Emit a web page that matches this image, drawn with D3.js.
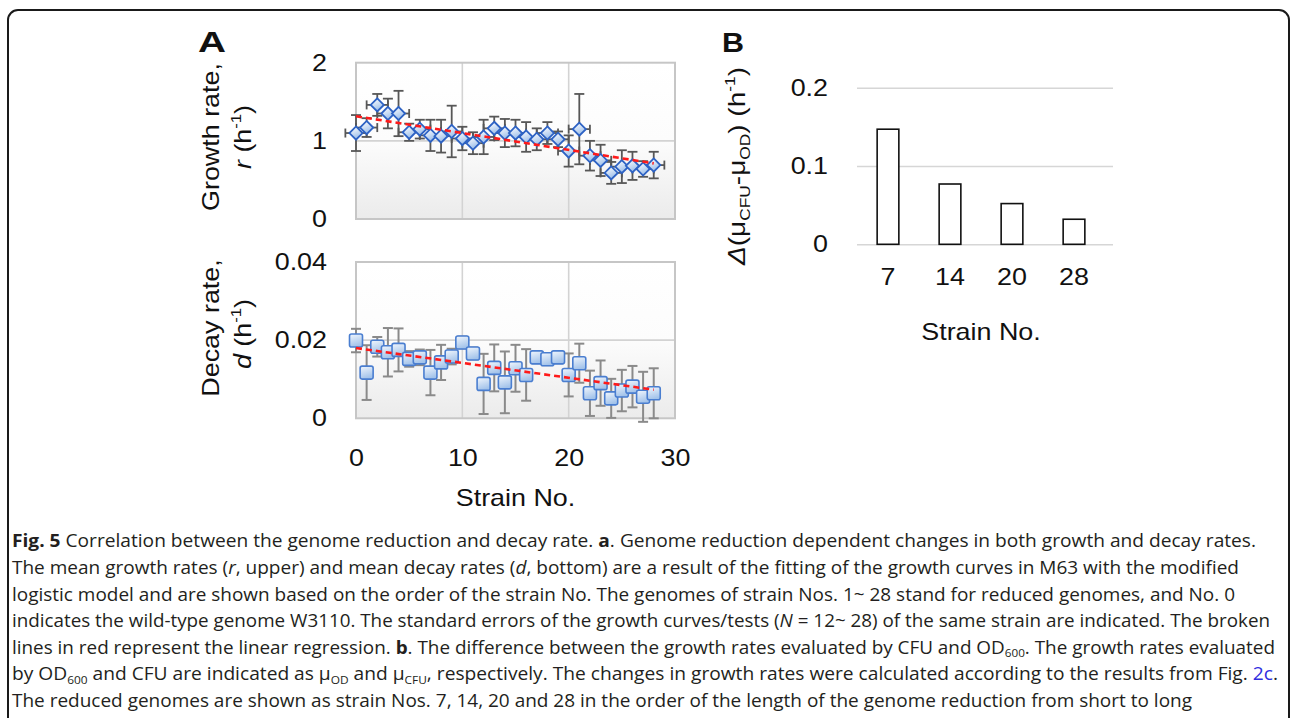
<!DOCTYPE html>
<html><head><meta charset="utf-8">
<script src="https://cdn.jsdelivr.net/npm/d3@7"></script>
<style>body{margin:0;background:#fff;overflow:hidden} svg{display:block}</style>
</head><body>
<svg id="c" width="1290" height="718"></svg>
<script>
// ---------------- DATA ----------------
const strainNo   = [0,1,2,3,4,5,6,7,8,9,10,11,12,13,14,15,16,17,18,19,20,21,22,23,24,25,26,27,28];
const growthRate = [1.10,1.17,1.46,1.35,1.35,1.11,1.15,1.07,1.06,1.12,1.03,0.97,1.05,1.16,1.10,1.10,1.05,1.02,1.10,1.02,0.87,1.15,0.81,0.75,0.59,0.67,0.68,0.64,0.69];
const growthErr  = [0.23,0.12,0.14,0.19,0.29,0.11,0.12,0.20,0.21,0.33,0.15,0.14,0.22,0.15,0.18,0.17,0.19,0.14,0.14,0.10,0.20,0.45,0.19,0.20,0.14,0.21,0.18,0.10,0.17];
const growthXErr = 1.0;
const decayRate  = [0.0199,0.0117,0.0183,0.0169,0.0175,0.0152,0.0156,0.0117,0.0143,0.0158,0.0194,0.0166,0.0088,0.0129,0.0092,0.0128,0.0111,0.0156,0.0151,0.0156,0.0111,0.0141,0.0064,0.0090,0.0051,0.0071,0.0081,0.0055,0.0064];
const decayErr   = [0.0030,0.0070,0.0025,0.0062,0.0055,0.0020,0.0020,0.0058,0.0045,0.0020,0.0015,0.0015,0.0077,0.0060,0.0079,0.0060,0.0066,0.0015,0.0015,0.0015,0.0055,0.0050,0.0058,0.0058,0.0050,0.0053,0.0053,0.0064,0.0064];
const barStrains = ["7","14","20","28"];
const deltaMu    = [0.147,0.077,0.052,0.032];
const growthTicks = [0,1,2];
const decayTicks  = [0,0.02,0.04];
const strainTicks = [0,10,20,30];
const deltaTicks  = [0,0.1,0.2];

// ---------------- SETUP ----------------
const svg = d3.select("#c");
const FONT = "'Liberation Sans', Arial, sans-serif";
const CAPFONT = "'Open Sans', 'Noto Sans', sans-serif";
const WID = 1.12;

function widen(sel, f){
  sel.each(function(){
    const l = this.getComputedTextLength();
    d3.select(this).attr("textLength", l*f).attr("lengthAdjust","spacingAndGlyphs");
  });
}
function rich(t, segs, size){
  let shift = 0;
  segs.forEach(s=>{
    const ts = t.append("tspan").text(s.t);
    const target = s.sup ? -0.42*size : (s.sub ? 0.22*size : 0);
    if (target - shift !== 0) ts.attr("dy", target - shift);
    shift = target;
    if (s.sup || s.sub) ts.attr("font-size", size*0.62);
    if (s.i) ts.attr("font-style","italic");
    if (s.b) ts.attr("font-weight","bold");
    if (s.fill) ts.attr("fill", s.fill);
  });
  return t;
}
function linreg(xs, ys){
  const mx = d3.mean(xs), my = d3.mean(ys);
  let sxy=0, sxx=0;
  xs.forEach((x,i)=>{ sxy += (x-mx)*(ys[i]-my); sxx += (x-mx)*(x-mx); });
  const b = sxy/sxx; return [my - b*mx, b];
}

const defs = svg.append("defs");
const bg = defs.append("linearGradient").attr("id","plotBg").attr("x1",0).attr("y1",0).attr("x2",0).attr("y2",1);
bg.append("stop").attr("offset","0%").attr("stop-color","#ffffff");
bg.append("stop").attr("offset","50%").attr("stop-color","#fcfcfc");
bg.append("stop").attr("offset","100%").attr("stop-color","#ebebeb");
const dg = defs.append("linearGradient").attr("id","diaFill").attr("x1",0.2).attr("y1",0).attr("x2",0.6).attr("y2",1);
dg.append("stop").attr("offset","0%").attr("stop-color","#ffffff");
dg.append("stop").attr("offset","100%").attr("stop-color","#94b9e8");
const sg = defs.append("linearGradient").attr("id","sqFill").attr("x1",0).attr("y1",0).attr("x2",0.3).attr("y2",1);
sg.append("stop").attr("offset","0%").attr("stop-color","#f2f7fd");
sg.append("stop").attr("offset","100%").attr("stop-color","#a3c3ea");

// frame
svg.append("rect").attr("x",8).attr("y",10).attr("width",1281).attr("height",780)
  .attr("rx",10).attr("fill","none").attr("stroke","#1a1a1a").attr("stroke-width",2);

// ---------------- PANEL A ----------------
const x = d3.scaleLinear().domain([0,30]).range([356,675]);
const yG = d3.scaleLinear().domain([0,2]).range([219,62.7]);
const yD = d3.scaleLinear().domain([0,0.04]).range([418.3,262]);

function plotFrame(y){
  const g = svg.append("g");
  const [y0,y1] = y.range();
  g.append("rect").attr("x",x(0)).attr("y",y1).attr("width",x(30)-x(0)).attr("height",y0-y1)
    .attr("fill","url(#plotBg)");
  const mid = y.domain()[1]/2;
  g.append("line").attr("x1",x(0)).attr("x2",x(30)).attr("y1",y(mid)).attr("y2",y(mid))
    .attr("stroke","#d3d3d3").attr("stroke-width",1.6);
  [10,20].forEach(v=> g.append("line").attr("x1",x(v)).attr("x2",x(v)).attr("y1",y1).attr("y2",y0)
    .attr("stroke","#d3d3d3").attr("stroke-width",1.6));
  g.append("rect").attr("x",x(0)).attr("y",y1).attr("width",x(30)-x(0)).attr("height",y0-y1)
    .attr("fill","none").attr("stroke","#c6c6c6").attr("stroke-width",2);
}
plotFrame(yG);
plotFrame(yD);

// y axes
function yAxis(y, ticks, fmt){
  const g = svg.append("g").attr("transform",`translate(${x(0)},0)`)
    .call(d3.axisLeft(y).tickValues(ticks).tickSize(0).tickPadding(29).tickFormat(fmt));
  g.select(".domain").remove();
  g.selectAll("text").attr("font-family",FONT).attr("font-size",24).attr("fill","#111");
  widen(g.selectAll("text"), WID);
}
yAxis(yG, growthTicks, d=>d3.format("d")(d));
yAxis(yD, decayTicks, d=> d===0 ? "0" : d3.format(".2f")(d));

const gx = svg.append("g").attr("transform",`translate(0,${yD.range()[0]})`)
  .call(d3.axisBottom(x).tickValues(strainTicks).tickSize(0).tickPadding(31));
gx.select(".domain").remove();
gx.selectAll("text").attr("font-family",FONT).attr("font-size",24).attr("fill","#111");
widen(gx.selectAll("text"), WID);

const xt = svg.append("text").attr("x",(x(0)+x(30))/2).attr("y",506).attr("text-anchor","middle")
  .attr("font-family",FONT).attr("font-size",24).attr("fill","#111").text("Strain No.");
widen(xt, WID);

function yTitle(cx, cy, segs){
  const t = svg.append("text").attr("transform",`translate(${cx},${cy}) rotate(-90)`)
    .attr("text-anchor","middle").attr("font-family",FONT).attr("font-size",24).attr("fill","#111");
  rich(t, segs, 24);
  widen(t, WID);
}
yTitle(219, 137, [{t:"Growth rate,"}]);
yTitle(251, 137, [{t:"r",i:1},{t:" (h"},{t:"-1",sup:1},{t:")"}]);
yTitle(219, 328, [{t:"Decay rate,"}]);
yTitle(251, 334, [{t:"d",i:1},{t:" (h"},{t:"-1",sup:1},{t:")"}]);

// growth error bars
const eg = svg.append("g").attr("stroke","#575757").attr("stroke-width",1.8).attr("fill","none");
strainNo.forEach((n,i)=>{
  const cx = x(n), lo = yG(growthRate[i]-growthErr[i]), hi = yG(growthRate[i]+growthErr[i]), cy = yG(growthRate[i]);
  eg.append("line").attr("x1",cx).attr("x2",cx).attr("y1",lo).attr("y2",hi);
  eg.append("line").attr("x1",cx-5).attr("x2",cx+5).attr("y1",lo).attr("y2",lo);
  eg.append("line").attr("x1",cx-5).attr("x2",cx+5).attr("y1",hi).attr("y2",hi);
  const xl = x(n-growthXErr), xr = x(n+growthXErr);
  eg.append("line").attr("x1",xl).attr("x2",xr).attr("y1",cy).attr("y2",cy);
  eg.append("line").attr("x1",xl).attr("x2",xl).attr("y1",cy-4.5).attr("y2",cy+4.5);
  eg.append("line").attr("x1",xr).attr("x2",xr).attr("y1",cy-4.5).attr("y2",cy+4.5);
});
// diamonds
const r = 6.6;
svg.append("g").selectAll("path").data(strainNo).join("path")
  .attr("transform",(n,i)=>`translate(${x(n)},${yG(growthRate[i])})`)
  .attr("d",`M0,${-r}L${r},0L0,${r}L${-r},0Z`)
  .attr("fill","url(#diaFill)").attr("stroke","#2d62c4").attr("stroke-width",1.8);

// decay error bars
const ed = svg.append("g").attr("stroke","#8a8a8a").attr("stroke-width",2).attr("fill","none");
strainNo.forEach((n,i)=>{
  const cx = x(n), lo = yD(decayRate[i]-decayErr[i]), hi = yD(decayRate[i]+decayErr[i]);
  ed.append("line").attr("x1",cx).attr("x2",cx).attr("y1",lo).attr("y2",hi);
  ed.append("line").attr("x1",cx-5).attr("x2",cx+5).attr("y1",lo).attr("y2",lo);
  ed.append("line").attr("x1",cx-5).attr("x2",cx+5).attr("y1",hi).attr("y2",hi);
});
const s = 13;
svg.append("g").selectAll("rect").data(strainNo).join("rect")
  .attr("x",n=>x(n)-s/2).attr("y",(n,i)=>yD(decayRate[i])-s/2)
  .attr("width",s).attr("height",s).attr("rx",2)
  .attr("fill","url(#sqFill)").attr("stroke","#4a7ed0").attr("stroke-width",1.6);

// regression lines
function regLine(ys, y){
  const [a,b] = linreg(strainNo, ys);
  const x0 = d3.min(strainNo), x1 = d3.max(strainNo);
  svg.append("line").attr("x1",x(x0)).attr("x2",x(x1)).attr("y1",y(a+b*x0)).attr("y2",y(a+b*x1))
    .attr("stroke","#ff1a1a").attr("stroke-width",2.6).attr("stroke-dasharray","6,4");
}
regLine(growthRate, yG);
regLine(decayRate, yD);

// ---------------- PANEL B ----------------
const xb = d3.scaleBand().domain(barStrains).range([857,1105]).paddingInner(0.65).paddingOuter(0.325);
const yb = d3.scaleLinear().domain([0,0.2]).range([244.3,87.7]);
const gyb = svg.append("g").attr("transform","translate(857,0)")
  .call(d3.axisLeft(yb).tickValues(deltaTicks).tickSize(-256).tickPadding(29).tickFormat(d=> d===0?"0":d3.format(".1f")(d)));
gyb.select(".domain").remove();
gyb.selectAll("line").attr("stroke","#d6d6d6").attr("stroke-width",1.6);
gyb.selectAll("text").attr("font-family",FONT).attr("font-size",24).attr("fill","#111");
widen(gyb.selectAll("text"), WID);

svg.append("g").selectAll("rect").data(barStrains).join("rect")
  .attr("x",d=>xb(d)).attr("width",xb.bandwidth())
  .attr("y",(d,i)=>yb(deltaMu[i])).attr("height",(d,i)=>yb(0)-yb(deltaMu[i]))
  .attr("fill","#fff").attr("stroke","#111").attr("stroke-width",1.6);

const gxb = svg.append("g").attr("transform",`translate(0,${yb(0)})`)
  .call(d3.axisBottom(xb).tickSize(0).tickPadding(24));
gxb.select(".domain").remove();
gxb.selectAll("text").attr("font-family",FONT).attr("font-size",24).attr("fill","#111");
widen(gxb.selectAll("text"), WID);

const xtb = svg.append("text").attr("x",981).attr("y",340).attr("text-anchor","middle")
  .attr("font-family",FONT).attr("font-size",24).attr("fill","#111").text("Strain No.");
widen(xtb, WID);

const tb = svg.append("text").attr("transform","translate(745,166) rotate(-90)")
  .attr("text-anchor","middle").attr("font-family",FONT).attr("font-size",24).attr("fill","#111");
rich(tb, [{t:"Δ",i:1},{t:"(μ"},{t:"CFU",sub:1},{t:"-μ"},{t:"OD",sub:1},{t:") (h"},{t:"-1",sup:1},{t:")"}], 24);
tb.attr("textLength",198).attr("lengthAdjust","spacingAndGlyphs");

// panel letters
svg.append("text").attr("x",198).attr("y",52).attr("font-family",FONT).attr("font-weight","bold")
  .attr("font-size",30).attr("fill","#111").attr("textLength",28).attr("lengthAdjust","spacingAndGlyphs").text("A");
svg.append("text").attr("x",722).attr("y",52).attr("font-family",FONT).attr("font-weight","bold")
  .attr("font-size",28).attr("fill","#111").attr("textLength",22).attr("lengthAdjust","spacingAndGlyphs").text("B");

// ---------------- CAPTION ----------------
const capLines = [
  {y:547, end:1256, segs:[{t:"Fig. 5",b:1},{t:" Correlation between the genome reduction and decay rate. "},{t:"a",b:1},{t:". Genome reduction dependent changes in both growth and decay rates."}]},
  {y:574, end:1239, segs:[{t:"The mean growth rates ("},{t:"r",i:1},{t:", upper) and mean decay rates ("},{t:"d",i:1},{t:", bottom) are a result of the fitting of the growth curves in M63 with the modified"}]},
  {y:600.5, end:1235, segs:[{t:"logistic model and are shown based on the order of the strain No. The genomes of strain Nos. 1~ 28 stand for reduced genomes, and No. 0"}]},
  {y:627, end:1270, segs:[{t:"indicates the wild-type genome W3110. The standard errors of the growth curves/tests ("},{t:"N",i:1},{t:" = 12~ 28) of the same strain are indicated. The broken"}]},
  {y:653.5, end:1275, segs:[{t:"lines in red represent the linear regression. "},{t:"b",b:1},{t:". The difference between the growth rates evaluated by CFU and OD"},{t:"600",sub:1},{t:". The growth rates evaluated"}]},
  {y:680, end:1278, segs:[{t:"by OD"},{t:"600",sub:1},{t:" and CFU are indicated as μ"},{t:"OD",sub:1},{t:" and μ"},{t:"CFU",sub:1},{t:", respectively. The changes in growth rates were calculated according to the results from Fig. "},{t:"2c",fill:"#2f2fe0"},{t:"."}]},
  {y:707, end:1192, segs:[{t:"The reduced genomes are shown as strain Nos. 7, 14, 20 and 28 in the order of the length of the genome reduction from short to long"}]}
];
capLines.forEach(L=>{
  const t = svg.append("text").attr("x",12).attr("y",L.y).attr("font-family",CAPFONT)
    .attr("font-size",18).attr("fill","#231f20");
  rich(t, L.segs, 18);
  t.attr("textLength", L.end-12).attr("lengthAdjust","spacingAndGlyphs");
});
</script>
</body></html>
